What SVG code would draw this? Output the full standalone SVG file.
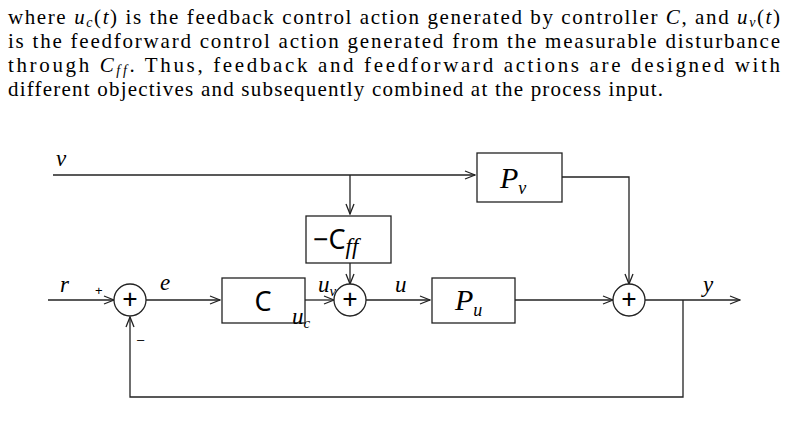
<svg xmlns="http://www.w3.org/2000/svg" width="788" height="431" viewBox="0 0 788 431">
<style>
.p{font-family:"Liberation Serif",serif;font-size:21px;fill:#000}
.m{font-style:italic}
.l{font-family:"Liberation Serif",serif;font-style:italic;font-size:23px;fill:#000}
.b{font-family:"Noto Sans",sans-serif;font-size:27px;fill:#000}
.bi{font-family:"Liberation Serif",serif;font-style:italic;font-size:30px;fill:#000}
.box{fill:#fff;stroke:#222;stroke-width:1.3}
.w{fill:none;stroke:#222;stroke-width:1.3}
.sg{font-family:"Liberation Sans",sans-serif;font-size:13px;fill:#000}
</style>
<defs>
<marker id="a" markerWidth="12" markerHeight="10" refX="11" refY="5" orient="auto" markerUnits="userSpaceOnUse">
<path d="M1,1 L11,5 L1,9" fill="none" stroke="#222" stroke-width="1.3"/>
</marker>
</defs>
<g id="text">
<text class="p" x="8" y="24" textLength="772" lengthAdjust="spacing">where <tspan class="m">u</tspan><tspan class="m" font-size="14" dy="3">c</tspan><tspan dy="-3">(</tspan><tspan class="m">t</tspan>) is the feedback control action generated by controller <tspan class="m">C</tspan>, and <tspan class="m">u</tspan><tspan class="m" font-size="14" dy="3">v</tspan><tspan dy="-3">(</tspan><tspan class="m">t</tspan>)</text>
<text class="p" x="8" y="48" textLength="772" lengthAdjust="spacing">is the feedforward control action generated from the measurable disturbance</text>
<text class="p" x="8" y="72" textLength="772" lengthAdjust="spacing">through <tspan class="m">C</tspan><tspan class="m" font-size="14" dy="3">ff</tspan><tspan dy="-3">.  Thus, feedback and feedforward actions are designed with</tspan></text>
<text class="p" x="8" y="96" textLength="655" lengthAdjust="spacing">different objectives and subsequently combined at the process input.</text>
</g>
<g id="connectors">
<path class="w" d="M53,175 H475" marker-end="url(#a)"/>
<path class="w" d="M350,175 V214" marker-end="url(#a)"/>
<path class="w" d="M350,262 V284" marker-end="url(#a)"/>
<path class="w" d="M562,177 H629 V284" marker-end="url(#a)"/>
<path class="w" d="M48,300 H114" marker-end="url(#a)"/>
<path class="w" d="M146,300 H220" marker-end="url(#a)"/>
<path class="w" d="M305,300 H334" marker-end="url(#a)"/>
<path class="w" d="M366,300 H430" marker-end="url(#a)"/>
<path class="w" d="M515,300 H613" marker-end="url(#a)"/>
<path class="w" d="M645,300 H740" marker-end="url(#a)"/>
<path class="w" d="M683,300 V397 H130 V317" marker-end="url(#a)"/>
</g>
<g id="Pv"><rect class="box" x="477" y="153" width="85" height="49"/><text class="bi" x="500" y="188">P<tspan font-size="18" dy="6">v</tspan></text></g>
<g id="Cff"><rect class="box" x="306" y="216" width="85" height="47"/><text class="b" x="313" y="249">−C<tspan class="l" font-size="19" dy="5">ff</tspan></text></g>
<g id="sum1"><circle class="box" cx="130" cy="300" r="16"/><text class="b" x="130" y="309" text-anchor="middle">+</text></g>
<g id="C"><rect class="box" x="222" y="278" width="83" height="45"/><text class="b" x="263" y="311" text-anchor="middle">C</text></g>
<g id="sum2"><circle class="box" cx="350" cy="300" r="16"/><text class="b" x="350" y="309" text-anchor="middle">+</text></g>
<g id="Pu"><rect class="box" x="432" y="278" width="83" height="45"/><text class="bi" x="455" y="310">P<tspan font-size="18" dy="6">u</tspan></text></g>
<g id="sum3"><circle class="box" cx="629" cy="300" r="16"/><text class="b" x="629" y="309" text-anchor="middle">+</text></g>
<g id="labels">
<text class="l" x="56" y="166">v</text>
<text class="l" x="60" y="292">r</text>
<text class="sg" x="95" y="295">+</text>
<text class="sg" x="137" y="344">–</text>
<text class="l" x="160" y="290">e</text>
<text class="l" x="292" y="324">u<tspan font-size="15" dy="4">c</tspan></text>
<text class="l" x="318" y="292">u<tspan font-size="15" dy="4">v</tspan></text>
<text class="l" x="395" y="292">u</text>
<text class="l" x="703" y="292">y</text>
</g>
</svg>
